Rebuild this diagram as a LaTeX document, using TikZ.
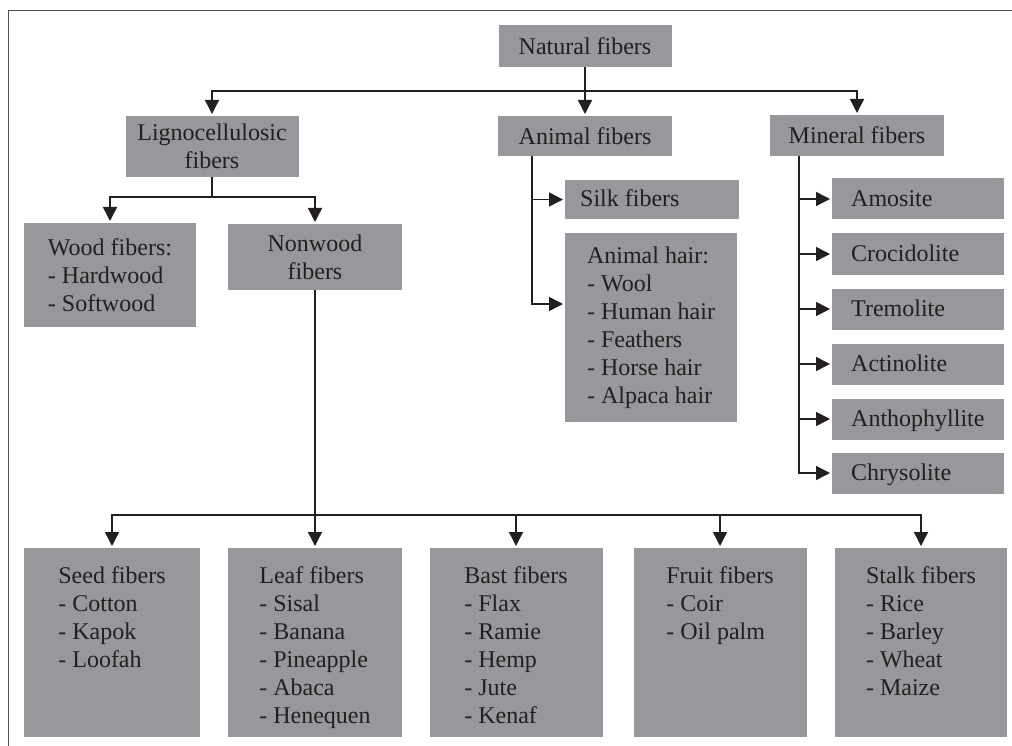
\documentclass[tikz,border=0pt]{standalone}
\usepackage{fontspec}
\setmainfont{Liberation Serif}
\usetikzlibrary{arrows.meta,calc}
\definecolor{boxgray}{RGB}{152,152,156}
\definecolor{ink}{RGB}{35,31,32}
\definecolor{framegray}{RGB}{80,80,80}
\tikzset{
  box/.style={fill=boxgray, inner sep=0pt, outer sep=0pt, text=ink, align=center, font=\fontsize{24}{28}\selectfont},
  sz/.style n args={2}{minimum width=#1pt, minimum height=#2pt},
  txt/.style={inner sep=0pt, text=ink, align=left, font=\fontsize{24}{28}\selectfont},
  conn/.style={draw=ink, line width=1.4pt},
  arr/.style={conn, -{Triangle[width=14pt,length=14pt]}, shorten >=2pt},
}
\begin{document}
\begin{tikzpicture}[x=1pt,y=-1pt]
\useasboundingbox (0,0) rectangle (1012,746);
\draw[framegray, line width=1.6pt] (8.5,746) -- (8.5,10.5) -- (1012,10.5);

% top level
\node[box, sz={173}{42}] (nat) at (585,46) {Natural fibers};
\node[box, sz={173}{61}] (lig) at (212,146.5) {Lignocellulosic\\fibers};
\node[box, sz={174}{40}] (ani) at (585,136) {Animal fibers};
\node[box, sz={174}{41}] (min) at (857,135.5) {Mineral fibers};

\coordinate (hb) at (585,91);
\draw[conn, line cap=rect] (hb -| lig.north) -- (hb -| min.north);
\draw[arr] (nat.south) -- (ani.north);
\draw[arr] (hb -| lig.north) -- (lig.north);
\draw[arr] (hb -| min.north) -- (min.north);

% lignocellulosic
\node[box, sz={172}{104}, align=left] (wood) at (110,275) {Wood fibers:\\- Hardwood\\- Softwood};
\node[box, sz={174}{66}] (nonw) at (315,257) {Nonwood\\fibers};
\coordinate (lb) at (212,197);
\draw[conn] (lig.south) -- (lb);
\draw[conn, line cap=rect] (lb -| wood.north) -- (lb -| nonw.north);
\draw[arr] (lb -| wood.north) -- (wood.north);
\draw[arr] (lb -| nonw.north) -- (nonw.north);

% animal
\node[box, sz={174}{39}] (silk) at (652,199.5) {};
\node[txt, anchor=base west] (silkt) at ([xshift=15pt,yshift=-7.5pt]silk.west) {Silk fibers};
\node[box, sz={172}{189}, align=left] (hair) at (651,327.5) {Animal hair:\\- Wool\\- Human hair\\- Feathers\\- Horse hair\\- Alpaca hair};
\draw[arr] ([xshift=-53pt]ani.south) |- (silk.west);
\draw[arr] ([xshift=-53pt]ani.south) |- ([yshift=23.5pt]hair.west);

% mineral
\foreach \n/\y/\t in {amo/199/Amosite, cro/254/Crocidolite, tre/309/Tremolite, act/364/Actinolite, ant/419/Anthophyllite, chr/473/Chrysolite}{
  \node[box, sz={172}{41}] (\n) at (918,\y) {};
  \node[txt, anchor=base west] (\n-t) at ([xshift=19pt,yshift=-7.5pt]\n.west) {\t};
  \draw[arr] ([xshift=-58pt]min.south) |- (\n.west);
}

% nonwood
\node[box, sz={176}{189}] (seed) at (112,642.5) {};
\node[box, sz={174}{189}] (leaf) at (315,642.5) {};
\node[box, sz={173}{189}] (bast) at (516,642.5) {};
\node[box, sz={173}{189}] (fruit) at (720,642.5) {};
\node[box, sz={172}{189}] (stalk) at (921,642.5) {};

\node[txt, anchor=north] (seedt) at ([yshift=-18pt]seed.north) {Seed fibers\\- Cotton\\- Kapok\\- Loofah};
\node[txt, anchor=north] (leaft) at ([yshift=-18pt]leaf.north) {Leaf fibers\\- Sisal\\- Banana\\- Pineapple\\- Abaca\\- Henequen};
\node[txt, anchor=north] (bastt) at ([yshift=-18pt]bast.north) {Bast fibers\\- Flax\\- Ramie\\- Hemp\\- Jute\\- Kenaf};
\node[txt, anchor=north] (fruitt) at ([yshift=-18pt]fruit.north) {Fruit fibers\\- Coir\\- Oil palm};
\node[txt, anchor=north] (stalkt) at ([yshift=-18pt]stalk.north) {Stalk fibers\\- Rice\\- Barley\\- Wheat\\- Maize};

\coordinate (bb) at (315,515);
\draw[conn, line cap=rect] (bb -| seed.north) -- (bb -| stalk.north);
\draw[arr] (nonw.south) -- (leaf.north);
\draw[arr] (bb -| seed.north) -- (seed.north);
\draw[arr] (bb -| bast.north) -- (bast.north);
\draw[arr] (bb -| fruit.north) -- (fruit.north);
\draw[arr] (bb -| stalk.north) -- (stalk.north);
\end{tikzpicture}
\end{document}
